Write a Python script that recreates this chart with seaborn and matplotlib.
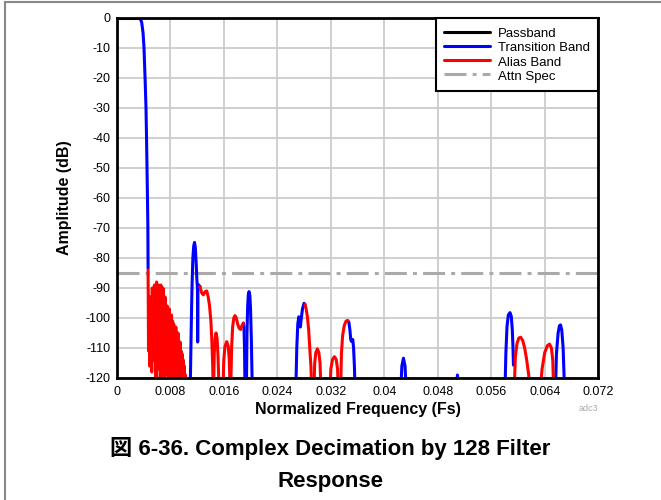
import numpy as np
import pandas as pd
import matplotlib
matplotlib.use("Agg")
import matplotlib.pyplot as plt
import seaborn as sns
from matplotlib.lines import Line2D
from matplotlib.patches import Rectangle

nan = np.nan

# _____1. DATA (NaN splits separate pieces)_____
passband_x = [0.0, 0.0010, 0.0020, 0.0030, 0.00345]
passband_y = [0, 0, 0, 0, 0]

transition_x = [
    0.00345, 0.00370, 0.00390, 0.00404, 0.00420, 0.00434, 0.00442, 0.00449, 0.00456, 0.00462, 0.00465, nan,
    0.01095, 0.01110, 0.01122, 0.01135, 0.01148, 0.01160, 0.01172, 0.01185, 0.01197, 0.01204, 0.01207,
    0.01211, 0.01222, 0.01242, nan,
    0.01891, 0.01900, 0.01908, 0.01916, nan,
    0.01936, 0.01945, 0.01955, 0.01965, 0.01976, 0.01988, 0.01998, 0.02010, 0.02025, nan,
    0.02675, 0.02690, 0.02705, 0.02720, 0.02732, 0.02744, 0.02758, 0.02775, 0.02799, 0.02814, nan,
    0.03453, 0.03470, 0.03485, 0.03498, 0.03510, 0.03528, 0.03540, 0.03552, 0.03563, nan,
    0.04245, 0.04262, 0.04286, 0.04310, 0.04328, nan,
    0.05070, 0.05094, 0.05118, nan,
    0.05805, 0.05818, 0.05835, 0.05855, 0.05880, 0.05900, 0.05915, 0.05925, 0.05932, nan,
    0.06560, 0.06575, 0.06600, 0.06620, 0.06636, 0.06655, 0.06675, 0.06698,
]
transition_y = [
    0, -1.5, -5, -10, -20, -30, -40, -50, -60, -70, -83.5, nan,
    -125, -104, -90, -80, -76, -74.8, -76.5, -82, -88, -90, -108,
    -91, -89, -89.5, nan,
    -101.7, -103, -110, -125, nan,
    -125, -105, -96, -92.2, -91.2, -92.5, -97, -107, -125, nan,
    -125, -110, -102, -99.6, -101.5, -103, -100, -97, -95.1, -95.5, nan,
    -100.9, -101.5, -104, -107.3, -107.8, -107.2, -110, -116, -125, nan,
    -125, -116, -113.4, -116, -125, nan,
    -125, -119, -125, nan,
    -125, -112, -103, -99, -98.2, -99.5, -104, -110, -115.7, nan,
    -125, -112, -105, -102.6, -102.3, -104, -110, -125,
]

alias_x = [
    0.00465, 0.00472, 0.00480, 0.00488, 0.00496, 0.00504, 0.00512, 0.00520, 0.00528, 0.00536,
    0.00544, 0.00552, 0.00560, 0.00568, 0.00576, 0.00584, 0.00592, 0.00600, 0.00608, 0.00616,
    0.00624, 0.00632, 0.00640, 0.00648, 0.00656, 0.00664, 0.00672, 0.00680, 0.00688, 0.00696,
    0.00704, 0.00712, 0.00720, 0.00728, 0.00736, 0.00744, 0.00752, 0.00760, 0.00768, 0.00776,
    0.00784, 0.00792, 0.00800, 0.00808, 0.00816, 0.00824, 0.00832, 0.00840, 0.00848, 0.00856,
    0.00864, 0.00872, 0.00880, 0.00888, 0.00896, 0.00904, 0.00912, 0.00920, 0.00928, 0.00936,
    0.00944, 0.00952, 0.00960, 0.00968, 0.00976, 0.00984, 0.00992, 0.01000, 0.01008, 0.01016,
    0.01024, nan,
    0.01242, 0.01265, 0.01292, 0.01318, 0.01343, 0.01365, 0.01385, 0.01405, 0.01420, 0.01432, 0.01440, nan,
    0.01445, 0.01455, 0.01465, 0.01482, 0.01498, 0.01512, 0.01528, nan,
    0.01585, 0.01598, 0.01615, 0.01642, 0.01665, 0.01680, 0.01694, nan,
    0.01700, 0.01715, 0.01730, 0.01748, 0.01766, 0.01785, 0.01805, 0.01830, 0.01852, 0.01870, 0.01891, nan,
    0.02814, 0.02830, 0.02849, 0.02868, 0.02889, 0.02902, 0.02914, nan,
    0.02945, 0.02958, 0.02975, 0.02998, 0.03020, 0.03038, 0.03054, nan,
    0.03185, 0.03200, 0.03225, 0.03253, 0.03280, 0.03300, 0.03313, nan,
    0.03345, 0.03358, 0.03375, 0.03400, 0.03428, 0.03453, nan,
    0.05942, 0.05960, 0.05985, 0.06012, 0.06040, 0.06070, 0.06100, 0.06130, 0.06160, 0.06182, nan,
    0.06330, 0.06360, 0.06400, 0.06440, 0.06471, 0.06500, 0.06520, 0.06535,
]
alias_y = [
    -84, -111, -97, -116, -93, -113, -95, -118, -90, -108,
    -97, -114, -89, -106, -92, -121, -88, -101, -90, -117,
    -89, -104, -93, -124, -89, -109, -92, -120, -90, -113,
    -95, -125, -93, -110, -97, -119, -96, -114, -100, -126,
    -97, -112, -100, -123, -99, -116, -101, -127, -102, -118,
    -104, -124, -103, -115, -106, -129, -105, -120, -108, -126,
    -108, -121, -111, -128, -112, -122, -114, -130, -116, -126,
    -119, nan,
    -89.5, -91.5, -92.3, -91.2, -91.0, -93, -96, -101, -108, -116, -125, nan,
    -125, -112, -107, -105, -107, -113, -125, nan,
    -125, -114, -109.5, -107.9, -109.5, -114, -125, nan,
    -125, -110, -103, -100, -99.2, -100, -102, -103.5, -103.8, -102.5, -101.7, nan,
    -95.5, -97, -99.6, -104, -111.8, -116, -125, nan,
    -125, -115, -111.5, -110.3, -111.5, -115, -125, nan,
    -125, -117, -113.8, -112.9, -113.8, -117, -125, nan,
    -125, -112, -106, -102.5, -101, -100.9, nan,
    -125, -113, -108.5, -106.7, -106.4, -107.5, -110, -114, -119, -125, nan,
    -125, -117, -111.5, -109.2, -108.7, -110, -114, -125,
]

attn_spec = -85
band_names = ['Passband', 'Transition Band', 'Alias Band']
band_colors = ['#000000', '#0000ff', '#ff0000']
x_ticks = [0, 0.008, 0.016, 0.024, 0.032, 0.04, 0.048, 0.056, 0.064, 0.072]
x_labels = ['0', '0.008', '0.016', '0.024', '0.032', '0.04', '0.048', '0.056', '0.064', '0.072']
y_ticks = [0, -10, -20, -30, -40, -50, -60, -70, -80, -90, -100, -110, -120]


def to_frame(xs, ys, band):
    d = pd.DataFrame({'freq': xs, 'amp': ys})
    d['seg'] = d['freq'].isna().cumsum()
    d = d.dropna()
    d['band'] = band
    return d


df = pd.concat([
    to_frame(passband_x, passband_y, band_names[0]),
    to_frame(transition_x, transition_y, band_names[1]),
    to_frame(alias_x, alias_y, band_names[2]),
], ignore_index=True)

# _____2. PLOT_____
sns.set_style("whitegrid")
plt.rcParams['font.family'] = ['Liberation Sans', 'Noto Sans CJK JP', 'DejaVu Sans']
plt.rcParams['axes.unicode_minus'] = False
for key in ['text.color', 'axes.labelcolor', 'xtick.color', 'ytick.color']:
    plt.rcParams[key] = 'black'

fig = plt.figure(figsize=(6.61, 5), dpi=100)
ax = fig.add_axes([0.177, 0.244, 0.728, 0.72])

for band, color in zip(band_names, band_colors):
    sns.lineplot(data=df[df['band'] == band], x='freq', y='amp', units='seg',
                 estimator=None, sort=False, color=color, lw=2.2, ax=ax, legend=False)

ax.axhline(attn_spec, color='#aaaaaa', lw=2.2, dashes=(7.2, 2, 1.3, 2), zorder=1)

ax.set_xlim(0, 0.072)
ax.set_ylim(-120, 0)
ax.set_xticks(x_ticks)
ax.set_xticklabels(x_labels)
ax.set_yticks(y_ticks)
ax.tick_params(length=0, labelsize=9, colors='black')
ax.tick_params(axis='x', pad=6)
ax.tick_params(axis='y', pad=4.5)
ax.grid(True, color='#cccccc', lw=1.3)
for s in ax.spines.values():
    s.set_color('black')
    s.set_linewidth(2)
    s.set_visible(True)

ax.set_xlabel('Normalized Frequency (Fs)', fontsize=11.5, fontweight='bold', va='center')
ax.set_ylabel('Amplitude (dB)', fontsize=11.5, fontweight='bold', va='center')
ax.xaxis.set_label_coords(0.5, -0.087)
ax.yaxis.set_label_coords(-0.11, 0.5)

handles = [Line2D([], [], color=c, lw=2.2) for c in band_colors]
handles.append(Line2D([], [], color='#aaaaaa', lw=2.2, dashes=(7.2, 2, 1.3, 2)))
leg = ax.legend(handles, band_names + ['Attn Spec'], loc='upper right', fontsize=9.5,
                frameon=True, fancybox=False, framealpha=1, edgecolor='black',
                borderaxespad=0, handlelength=3.5, handleheight=1.2, labelspacing=0,
                borderpad=0.6, handletextpad=0.6)
leg.get_frame().set_linewidth(1.5)

fig.text(0.905, 0.183, 'adc3', fontsize=6.5, color='#aaaaaa', ha='right', va='center')

fig.text(0.5, 0.104, '図 6-36. Complex Decimation by 128 Filter', fontsize=16,
         fontweight='bold', ha='center', va='center')
fig.text(0.5, 0.038, 'Response', fontsize=16, fontweight='bold', ha='center', va='center')

fig.patches.append(Rectangle((5 / 661, -0.1), 1.2, 1.1 - 2 / 500, transform=fig.transFigure,
                             fill=False, edgecolor='#888888', lw=1.5))

fig.savefig('out.png', dpi=100)
